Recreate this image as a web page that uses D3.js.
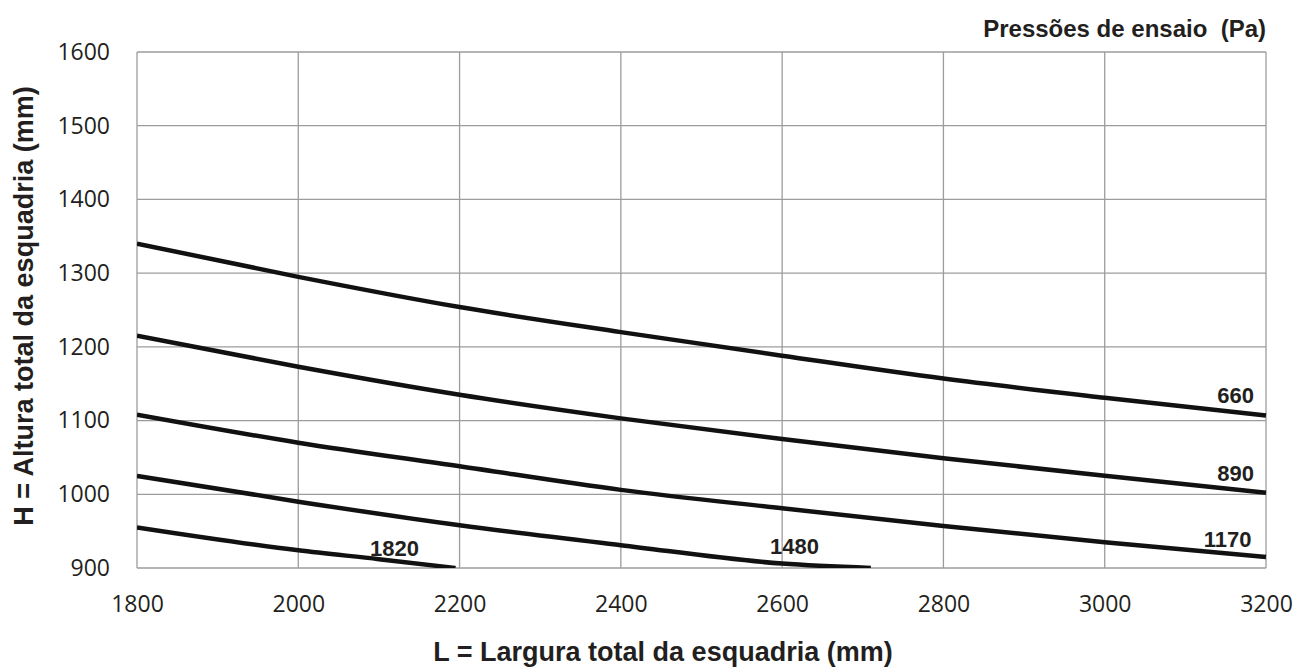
<!DOCTYPE html>
<html><head><meta charset="utf-8">
<script src="https://cdn.jsdelivr.net/npm/d3@7"></script>
<style>body{margin:0;background:#fff}svg{display:block}</style>
</head><body>
<svg id="chart" width="1312" height="668"></svg>
<script>
const xTicks = [1800, 2000, 2200, 2400, 2600, 2800, 3000, 3200];
const yTicks = [900, 1000, 1100, 1200, 1300, 1400, 1500, 1600];
const widths = [1800, 2000, 2200, 2400, 2600, 2800, 3000, 3200];
const pressures = ["660", "890", "1170", "1480", "1820"];
const h660  = [1340, 1295, 1254, 1220, 1188, 1157, 1131, 1107];
const h890  = [1215, 1173, 1135, 1103, 1075, 1049, 1025, 1002];
const h1170 = [1108, 1070, 1038, 1006, 981, 957, 935, 915];
const w1480 = [1800, 2000, 2200, 2400, 2600, 2710];
const h1480 = [1025, 990, 958, 931, 906, 900];
const w1820 = [1800, 2000, 2100, 2195];
const h1820 = [955, 924, 912, 900];
// label anchors in data units [L, H]
const labelL = [3185, 3185, 3182, 2585, 2089];
const labelH = [1124, 1018, 929, 919, 916];
const labelAnchor = ["end", "end", "end", "start", "start"];

const series = [
  {name: pressures[0], pts: widths.map((w,i)=>[w, h660[i]])},
  {name: pressures[1], pts: widths.map((w,i)=>[w, h890[i]])},
  {name: pressures[2], pts: widths.map((w,i)=>[w, h1170[i]])},
  {name: pressures[3], pts: w1480.map((w,i)=>[w, h1480[i]])},
  {name: pressures[4], pts: w1820.map((w,i)=>[w, h1820[i]])}
];

const svg = d3.select("#chart");
const m = {l: 137, r: 46, t: 52, b: 100};
const W = 1312, H = 668;
const x = d3.scaleLinear().domain([1800, 3200]).range([m.l, W - m.r]);
const y = d3.scaleLinear().domain([900, 1600]).range([H - m.b, m.t]);

const grid = "#9c9c9c";
const ink = "#231f20";
const boldFont = "'Liberation Sans', Arial, sans-serif";
// grid
svg.append("g").selectAll("line").data(xTicks).join("line")
  .attr("x1", d => x(d)).attr("x2", d => x(d))
  .attr("y1", y(900)).attr("y2", y(1600))
  .attr("stroke", grid).attr("stroke-width", 1.3);
svg.append("g").selectAll("line").data(yTicks).join("line")
  .attr("y1", d => y(d)).attr("y2", d => y(d))
  .attr("x1", x(1800)).attr("x2", x(3200))
  .attr("stroke", grid).attr("stroke-width", 1.3);

// axes (labels only)
const xAxis = svg.append("g").attr("transform", `translate(0,${y(900)})`)
  .call(d3.axisBottom(x).tickValues(xTicks).tickSize(0).tickPadding(28).tickFormat(d3.format("d")));
const yAxis = svg.append("g").attr("transform", `translate(${x(1800)},0)`)
  .call(d3.axisLeft(y).tickValues(yTicks).tickSize(0).tickPadding(27).tickFormat(d3.format("d")));
[xAxis, yAxis].forEach(a => {
  a.select(".domain").remove();
  a.selectAll("text").attr("font-family", "'Open Sans', 'Noto Sans', sans-serif")
    .attr("font-size", 23).attr("fill", ink);
});

// clip
svg.append("clipPath").attr("id", "clip").append("rect")
  .attr("x", x(1800)).attr("y", y(1600) - 5)
  .attr("width", x(3200) - x(1800) + 4).attr("height", y(900) - y(1600) + 5);

const line = d3.line().x(d => x(d[0])).y(d => y(d[1])).curve(d3.curveMonotoneX);
svg.append("g").attr("clip-path", "url(#clip)").selectAll("path").data(series).join("path")
  .attr("d", d => line(d.pts)).attr("fill", "none")
  .attr("stroke", "#111").attr("stroke-width", 4.5);

// curve labels
svg.append("g").selectAll("text").data(pressures).join("text")
  .attr("x", (d,i) => x(labelL[i])).attr("y", (d,i) => y(labelH[i]))
  .attr("text-anchor", (d,i) => labelAnchor[i])
  .attr("font-family", boldFont).attr("font-weight", "bold")
  .attr("font-size", 22).attr("fill", ink).text(d => d);

// titles
svg.append("text").attr("x", 1266).attr("y", 37).attr("text-anchor", "end")
  .style("white-space", "pre")
  .attr("font-family", boldFont).attr("font-weight", "bold")
  .attr("font-size", 24).attr("fill", ink).text("Pressões de ensaio  (Pa)");
svg.append("text").attr("x", 663).attr("y", 661).attr("text-anchor", "middle")
  .attr("font-family", boldFont).attr("font-weight", "bold")
  .attr("font-size", 27).attr("fill", ink).text("L = Largura total da esquadria (mm)");
svg.append("text").attr("transform", "translate(33,306) rotate(-90)").attr("text-anchor", "middle")
  .attr("font-family", boldFont).attr("font-weight", "bold")
  .attr("font-size", 27).attr("fill", ink).text("H = Altura total da esquadria (mm)");
</script>
</body></html>
